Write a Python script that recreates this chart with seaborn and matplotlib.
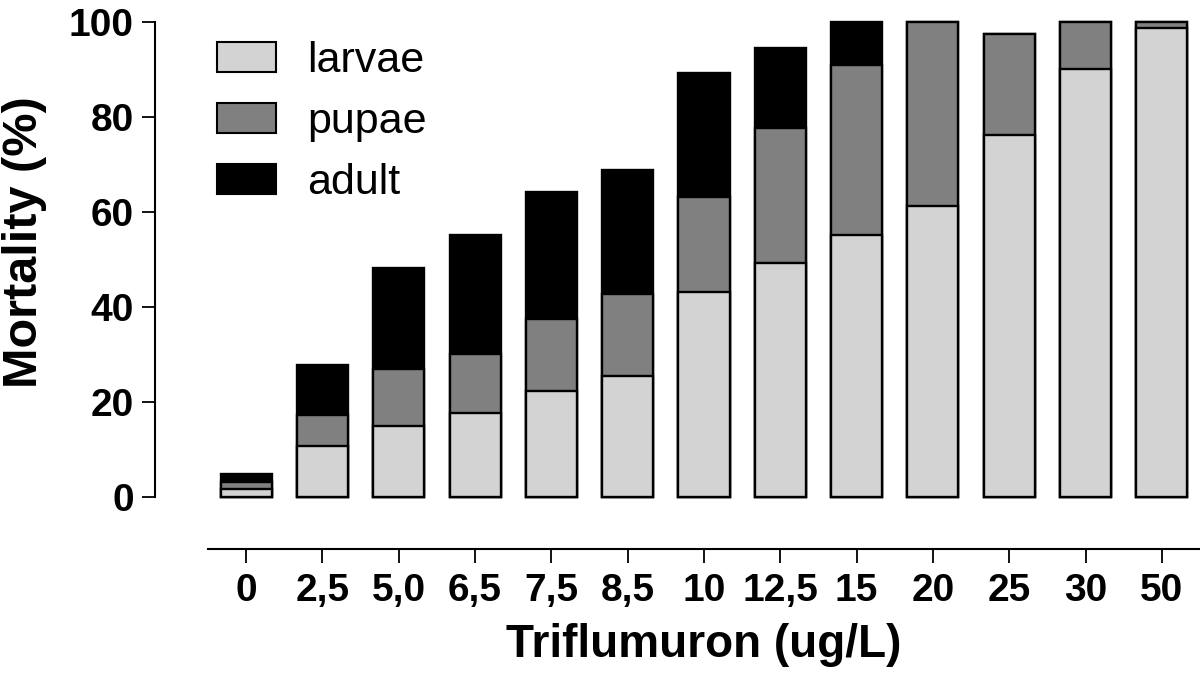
import numpy as np
import pandas as pd
import matplotlib
matplotlib.use("Agg")
import matplotlib.pyplot as plt
import seaborn as sns
from matplotlib.patches import Patch

# ---- data ----
concentrations = ["0", "2,5", "5,0", "6,5", "7,5", "8,5", "10", "12,5", "15", "20", "25", "30", "50"]
larvae = [1.6, 10.7, 14.9, 17.6, 22.2, 25.4, 43.0, 49.3, 55.0, 61.2, 76.2, 90.0, 98.6]
pupae = [1.5, 6.5, 11.9, 12.4, 15.3, 17.2, 20.2, 28.4, 35.9, 38.8, 21.3, 10.0, 1.4]
adult = [1.6, 10.5, 21.4, 25.1, 26.6, 26.2, 25.9, 16.8, 9.1, 0.0, 0.0, 0.0, 0.0]
stage_names = ["larvae", "pupae", "adult"]
stage_colors = ["#d3d3d3", "#808080", "#000000"]
yticks = [0, 20, 40, 60, 80, 100]
xlabel = "Triflumuron (ug/L)"
ylabel = "Mortality (%)"

sns.set_theme(style="ticks")
plt.rcParams["font.family"] = ["Liberation Sans", "DejaVu Sans"]
plt.rcParams["text.color"] = "black"

df = pd.DataFrame({"conc": concentrations, "larvae": larvae,
                   "pupae": pupae, "adult": adult})
df["cum_larvae"] = df["larvae"]
df["cum_pupae"] = df["cum_larvae"] + df["pupae"]
df["cum_adult"] = df["cum_pupae"] + df["adult"]

W, H = 1200, 680
fig = plt.figure(figsize=(W / 100, H / 100), dpi=100)
ax = fig.add_axes([208 / W, 1 - 496.7 / H, 992 / W, 475 / H])

for col, color in zip(["cum_adult", "cum_pupae", "cum_larvae"], stage_colors[::-1]):
    sns.barplot(data=df, x="conc", y=col, order=concentrations, color=color,
                saturation=1, edgecolor="black", linewidth=1.7, width=0.67,
                errorbar=None, ax=ax)
for p in ax.patches:
    p.set_clip_on(False)

ax.set_xlim(-0.5, 12.5)
ax.set_ylim(0, 100)
ax.set_yticks(yticks)

ax.spines["top"].set_visible(False)
ax.spines["right"].set_visible(False)
ax.spines["left"].set_position(("outward", 38))
ax.spines["left"].set_bounds(0, 100)
ax.spines["bottom"].set_position(("outward", 38))
for s in ("left", "bottom"):
    ax.spines[s].set_linewidth(1.5)
    ax.spines[s].set_color("black")

ax.tick_params(axis="y", length=9.5, width=1.3, pad=6, labelsize=28, colors="black")
ax.tick_params(axis="x", length=10, width=1.3, pad=7, labelsize=28, colors="black")
for lab in ax.get_xticklabels() + ax.get_yticklabels():
    lab.set_fontweight("bold")

ax.set_xlabel(xlabel, fontsize=33, fontweight="bold", color="black")
ax.set_ylabel(ylabel, fontsize=35, fontweight="bold", color="black")
ax.xaxis.set_label_coords(0.5, -0.265)
ax.yaxis.set_label_coords(-0.162, 0.535)

handles = [Patch(facecolor=c, edgecolor="black", linewidth=1.5) for c in stage_colors]
ax.legend(handles, stage_names, loc="upper left", bbox_to_anchor=(0.009, 0.96),
          bbox_transform=ax.transAxes, frameon=False, borderpad=0,
          borderaxespad=0, handlelength=1.38, handleheight=0.7,
          handletextpad=0.72, labelspacing=0.49, labelcolor="black",
          prop={"family": ["Liberation Sans"], "size": 31, "weight": "normal"})

fig.savefig("out.png", dpi=100, facecolor="white")
